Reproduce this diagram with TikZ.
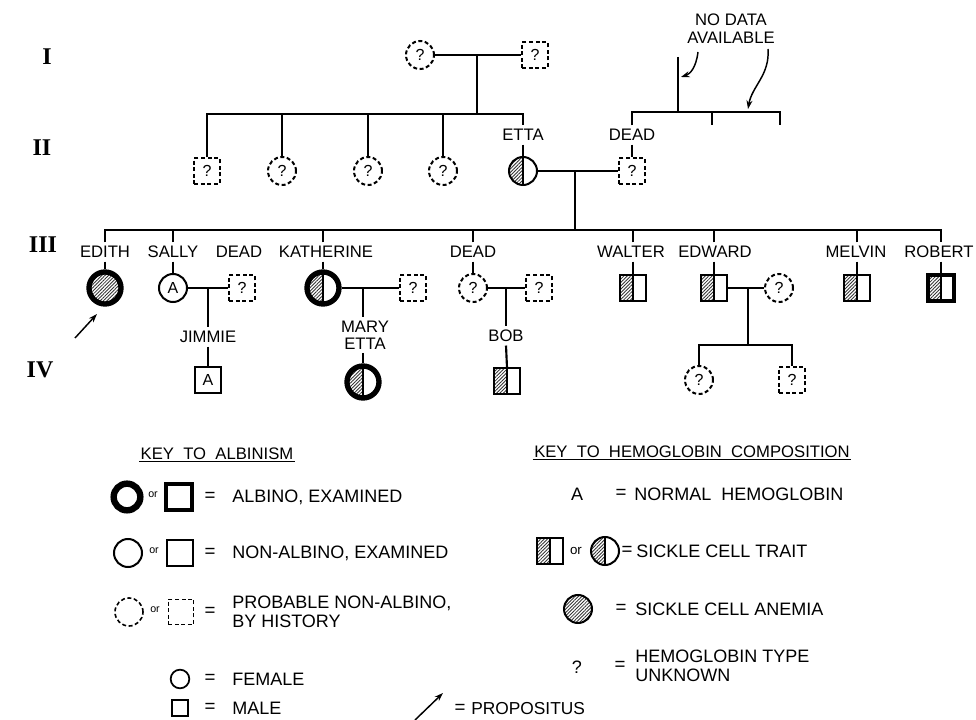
\documentclass[tikz,border=0pt]{standalone}
\usepackage{fontspec}
\setmainfont{Liberation Sans}
\newfontfamily\romfont{Liberation Serif}
\usetikzlibrary{patterns.meta,arrows.meta}

\tikzset{
 ln/.style={line width=1.6pt},
 arr/.style={line width=1.1pt,-{Stealth[length=6.5pt,width=4.5pt]}},
 base/.style={draw, line width=1.5pt, inner sep=0pt, font=\fontsize{12}{13}\selectfont},
 fem/.style={base, circle, minimum size=21pt},
 mal/.style={base, rectangle, minimum size=19pt},
 dsh/.style={dash pattern=on 3pt off 1.9pt},
 albf/.style={base, circle, minimum size=24pt, line width=4pt},
 albm/.style={base, rectangle, minimum size=19.5pt, line width=3.2pt},
 hatchfill/.style={pattern={Lines[angle=45,distance=1.8pt,line width=0.65pt]}, pattern color=black!80},
 fullhatch/.style={path picture={\fill[hatchfill] (path picture bounding box.south west) rectangle (path picture bounding box.north east);}},
 halfhatch/.style={path picture={\fill[hatchfill] (path picture bounding box.south west) rectangle (path picture bounding box.north); \draw[line width=1.2pt] (path picture bounding box.south) -- (path picture bounding box.north);}},
 nm/.style={inner sep=2.5pt, font=\fontsize{12.5}{13}\selectfont, text height=8.9pt, text depth=0pt},
 nm2/.style={inner sep=2.5pt, font=\fontsize{12.5}{12.8}\selectfont, align=center},
 gen/.style={font=\romfont\bfseries\fontsize{18}{18}\selectfont},
 keyh/.style={inner sep=1pt, font=\fontsize{12.5}{13}\selectfont, text height=9pt, text depth=0pt},
 keyt/.style={font=\fontsize{13.5}{15}\selectfont, anchor=west, align=left, inner sep=0pt},
 orl/.style={font=\fontsize{8}{8}\selectfont, inner sep=0pt},
 eqs/.style={font=\fontsize{14}{14}\selectfont, inner sep=0pt},
}

\begin{document}
\begin{tikzpicture}[x=0.75pt,y=-0.75pt]
\useasboundingbox (0,0) rectangle (976,720);

% generation labels
\node[gen] (gI) at (47,57) {I};
\node[gen] (gII) at (42,148) {II};
\node[gen] (gIII) at (43,245) {III};
\node[gen] (gIV) at (40,370) {IV};

% ---------- Generation I ----------
\node[fem,dsh] (g1f) at (420,55) {?};
\node[mal,dsh] (g1m) at (535,55) {?};
\draw[ln] (g1f) -- (g1m);
\coordinate (g1d) at (477,55);
\coordinate (s2a) at (477,114);
\draw[ln] (g1d) -- (s2a);

% ---------- Generation II ----------
\node[mal,dsh] (c21) at (207,171) {?};
\node[fem,dsh] (c22) at (282,171) {?};
\node[fem,dsh] (c23) at (368,171) {?};
\node[fem,dsh] (c24) at (443,171) {?};
\node[fem,halfhatch] (etta) at (523,171) {};
\node[nm] (ettal) at (523,135) {ETTA};
\draw[ln] (c21.north) |- (s2a) -| (ettal.north);
\draw[ln] (c22.north) -- (c22.north |- s2a);
\draw[ln] (c23.north) -- (c23.north |- s2a);
\draw[ln] (c24.north) -- (c24.north |- s2a);
\draw[ln] (ettal.south) -- (etta.north);

\node[mal,dsh] (d2) at (632,171) {?};
\node[nm] (d2l) at (632,135) {DEAD};
\draw[ln] (d2l.south) -- (d2.north);

% no data available
\coordinate (nd0) at (678,57);
\coordinate (nd1) at (678,112);
\coordinate (nd2) at (712,125);
\coordinate (nd3) at (780,125);
\draw[ln] (nd0) -- (nd1);
\draw[ln] (d2l.north) |- (nd1) -| (nd3);
\draw[ln] (nd2) -- (nd2 |- nd1);
\node[font=\fontsize{12.5}{13.5}\selectfont, align=center, inner sep=0pt] (ndt) at (731,29) {NO DATA\\AVAILABLE};
\coordinate (a1s) at (698,52);
\coordinate (a1e) at (681,77);
\coordinate (a2s) at (768,49);
\coordinate (a2e) at (748,109);
\draw[arr] (a1s) .. controls (696,68) and (690,74) .. (a1e);
\draw[arr] (a2s) .. controls (770,75) and (752,86) .. (a2e);

% marriage II
\draw[ln] (etta) -- (d2);
\coordinate (m2) at (575,171);
\coordinate (s3) at (575,230);
\draw[ln] (m2) -- (s3);

% ---------- Generation III ----------
\node[albf,fullhatch] (edith) at (105,288) {};
\node[nm] (edithl) at (105,252) {EDITH};
\node[fem] (sally) at (173,288) {A};
\node[nm] (sallyl) at (173,252) {SALLY};
\node[mal,dsh] (sh) at (242,288) {?};
\node[nm] (shl) at (239,252) {DEAD};
\node[albf,halfhatch] (kath) at (323,288) {};
\node[nm] (kathl) at (326,252) {KATHERINE};
\node[mal,dsh] (kh) at (413,288) {?};
\node[fem,dsh] (d3) at (473,288) {?};
\node[nm] (d3l) at (473,252) {DEAD};
\node[mal,dsh] (dh) at (539,288) {?};
\node[mal,halfhatch] (walter) at (633,288) {};
\node[nm] (walterl) at (631,252) {WALTER};
\node[mal,halfhatch] (edward) at (714,288) {};
\node[nm] (edwardl) at (715,252) {EDWARD};
\node[fem,dsh] (ew) at (779,288) {?};
\node[mal,halfhatch] (melvin) at (857,288) {};
\node[nm] (melvinl) at (856,252) {MELVIN};
\node[albm,halfhatch] (robert) at (941,288) {};
\node[nm] (robertl) at (939,252) {ROBERT};

\draw[ln] (edithl.north -| edith) |- (s3) -| (robertl.north -| robert);
\foreach \p in {sally,kath,d3,walter,edward,melvin}{
  \draw[ln] (\p.north |- \p l.north) -- (\p.north |- s3);
}
\foreach \p in {edith,sally,kath,d3,walter,edward,melvin,robert}{
  \draw[ln] (\p.north |- \p l.south) -- (\p.north);
}

% Sally's family
\draw[ln] (sally) -- (sh);
\coordinate (m3a) at (208,288);
\node[nm] (jimmiel) at (208,337) {JIMMIE};
\node[mal] (jimmie) at (208,380) {A};
\draw[ln] (m3a) -- (jimmiel.north);
\draw[ln] (jimmiel.south) -- (jimmie.north);

% Katherine's family
\draw[ln] (kath) -- (kh);
\coordinate (m3b) at (363,288);
\node[nm2] (maryl) at (365,335) {MARY\\ETTA};
\node[albf,halfhatch] (mary) at (363,382) {};
\draw[ln] (m3b) -- (m3b |- maryl.north);
\draw[ln] (mary.north |- maryl.south) -- (mary.north);

% Dead's family
\draw[ln] (d3) -- (dh);
\coordinate (m3c) at (506,288);
\node[nm] (bobl) at (506,336) {BOB};
\node[mal,halfhatch] (bob) at (507,381) {};
\draw[ln] (m3c) -- (bobl.north);
\draw[ln] (bobl.south) -- (bob.north);

% Edward's family
\draw[ln] (edward) -- (ew);
\coordinate (m3d) at (748,288);
\coordinate (s4) at (748,345);
\draw[ln] (m3d) -- (s4);
\node[fem,dsh] (ec1) at (699,380) {?};
\node[mal,dsh] (ec2) at (792,380) {?};
\draw[ln] (ec1.north) |- (s4) -| (ec2.north);

% propositus arrow
\coordinate (pa1) at (75,338);
\coordinate (pa2) at (97,314);
\draw[arr] (pa1) -- (pa2);

% ---------- Key to albinism ----------
\node[keyh] (k1h) at (217,454) {KEY~ TO~ ALBINISM};
\draw[line width=1pt] (k1h.south west) -- (k1h.south east);

\node[albf, minimum size=20pt, line width=4.8pt] (k1c) at (127,497) {};
\node[orl] (k1o) at (153,495) {or};
\node[albm, minimum size=19pt, line width=3pt] (k1s) at (179,497) {};
\node[eqs] (k1e) at (210,497) {=};
\node[keyt] (k1t) at (232,497) {ALBINO, EXAMINED};

\node[fem] (k2c) at (128,553) {};
\node[orl] (k2o) at (154,551) {or};
\node[mal] (k2s) at (180,553) {};
\node[eqs] (k2e) at (210,553) {=};
\node[keyt] (k2t) at (232,553) {NON-ALBINO, EXAMINED};

\node[fem,dsh,line width=1.2pt] (k3c) at (129,612) {};
\node[orl] (k3o) at (155,610) {or};
\node[mal,dsh,line width=1.2pt] (k3s) at (181,612) {};
\node[eqs] (k3e) at (210,612) {=};
\node[keyt, font=\fontsize{13.5}{14.5}\selectfont] (k3t) at (232,612) {PROBABLE NON-ALBINO,\\BY HISTORY};

\node[base, circle, minimum size=14pt, line width=1.3pt] (k4c) at (180,679) {};
\node[eqs] (k4e) at (210,679) {=};
\node[keyt] (k4t) at (232,679) {FEMALE};
\node[base, rectangle, minimum size=12pt, line width=1.3pt] (k5s) at (180,708) {};
\node[eqs] (k5e) at (210,708) {=};
\node[keyt] (k5t) at (232,708) {MALE};

% propositus key
\coordinate (pk1) at (415,720);
\coordinate (pk2) at (443,693);
\draw[arr] (pk1) -- (pk2);
\node[eqs] (pke) at (460,709) {=};
\node[keyt, font=\fontsize{13}{14}\selectfont] (pkt) at (471,709) {PROPOSITUS};

% ---------- Key to hemoglobin ----------
\node[keyh] (k2h) at (692,452) {KEY~ TO~ HEMOGLOBIN~ COMPOSITION};
\draw[line width=1pt] (k2h.south west) -- (k2h.south east);

\node[keyt, anchor=center] (hA) at (577,494) {A};
\node[eqs] (hAe) at (621,494) {=};
\node[keyt] (hAt) at (634,494) {NORMAL~ HEMOGLOBIN};

\node[mal,halfhatch] (hts) at (550,551) {};
\node[orl, font=\fontsize{10}{10}\selectfont] (hto) at (576,551) {or};
\node[fem,halfhatch] (htc) at (605,551) {};
\node[eqs] (hte) at (627,551) {=};
\node[keyt] (htt) at (636,551) {SICKLE CELL TRAIT};

\node[fem,fullhatch] (hac) at (578,609) {};
\node[eqs] (hae) at (621,609) {=};
\node[keyt] (hat) at (635,609) {SICKLE CELL ANEMIA};

\node[keyt, anchor=center] (hq) at (577,667) {?};
\node[eqs] (hqe) at (620,666) {=};
\node[keyt, font=\fontsize{13.5}{14.5}\selectfont] (hqt) at (635,666) {HEMOGLOBIN TYPE\\UNKNOWN};

\end{tikzpicture}
\end{document}
